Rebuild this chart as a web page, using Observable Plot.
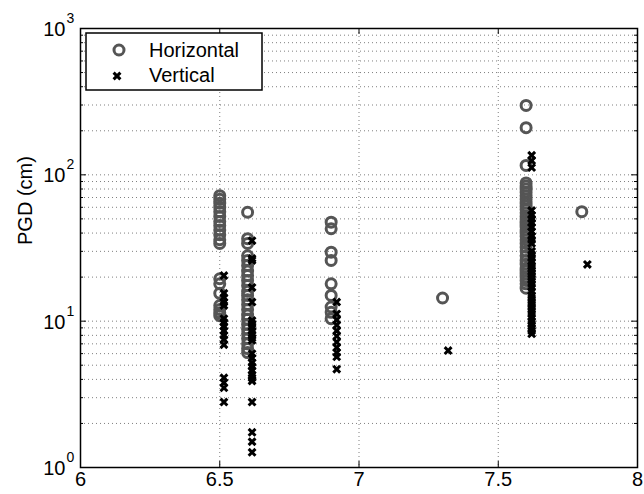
<!DOCTYPE html>
<html>
<head>
<meta charset="utf-8">
<script src="https://cdn.jsdelivr.net/npm/d3@7"></script>
<script src="https://cdn.jsdelivr.net/npm/@observablehq/plot@0.6"></script>
<style>
  html, body { margin: 0; padding: 0; background: #fff; }
  #chart { position: relative; width: 644px; height: 494px; }
</style>
</head>
<body>
<div id="chart"></div>
<script>
// Event magnitudes (x) for each series
const hMw = [6.5, 6.6, 6.9, 7.3, 7.6, 7.8];
const vMw = [6.515, 6.616, 6.92, 7.32, 7.62, 7.82];

// Horizontal PGD (cm) per event
const h65 = [72, 68, 64, 60, 56, 52, 48, 45, 42, 39, 36, 34, 19.5, 18, 15.5, 12.8, 12, 11.4, 10.9];
const h66 = [55.5, 36.6, 34, 28, 26, 24, 22, 20.5, 19, 17.5, 16, 15, 14, 13, 12, 11, 10.3, 9.5, 8.8, 8.2, 7.6, 7, 6.5, 6.1];
const h69 = [47.5, 42.8, 29.6, 26, 18, 15, 12.5, 11.5, 10.4];
const h73 = [14.4];
const h76 = [298, 210, 116, 88, 84, 80, 76, 72, 68, 64, 61, 58, 55, 52, 50, 48, 46, 44, 42, 40, 38, 36, 34, 32, 30, 28, 26, 24.5, 23, 22, 21, 20, 19, 18, 16.8];
const h78 = [56];

// Vertical PGD (cm) per event
const v65 = [20.5, 15.5, 14.5, 13.5, 12.8, 10.4, 9.8, 9.2, 8.6, 8, 7.5, 6.9, 4.1, 3.8, 3.5, 2.8];
const v66 = [35.5, 26.8, 26, 17, 13.5, 10.1, 9.6, 9.1, 8.6, 8.1, 7.7, 7.4, 6, 5.6, 5.2, 4.9, 4.6, 4.3, 4.1, 3.9, 2.8, 1.74, 1.5, 1.27];
const v69 = [13.5, 11.2, 10.2, 9.4, 8.6, 7.9, 7.2, 6.6, 6.1, 5.7, 4.7];
const v73 = [6.3];
const v76 = [136, 125, 112, 57, 53, 50, 47, 44, 41, 38, 36, 34, 30, 28.5, 27, 25.5, 24, 23, 22, 21, 20, 19, 18, 17, 16, 15, 14.3, 13.6, 13, 12.4, 11.8, 11.2, 10.6, 10, 9.5, 9, 8.6, 8.2];
const v78 = [24.4];

// Axis ticks
const xTicks = [6, 6.5, 7, 7.5, 8];
const xTickLabels = ["6", "6.5", "7", "7.5", "8"];
const yMajor = [1, 10, 100, 1000];
const yMinorMult = [2, 3, 4, 5, 6, 7, 8, 9];

const seriesNames = ["Horizontal", "Vertical"];
const yLabel = "PGD (cm)";

// ---- build tables ----
const hGroups = [h65, h66, h69, h73, h76, h78];
const vGroups = [v65, v66, v69, v73, v76, v78];
const horiz = hGroups.flatMap((g, i) => g.map(v => ({mw: hMw[i], pgd: v})));
const vert = vGroups.flatMap((g, i) => g.map(v => ({mw: vMw[i], pgd: v})));
const yMinor = yMajor.slice(0, -1).flatMap(d => yMinorMult.map(m => m * d));
const yGrid = [...yMajor.slice(1, -1), ...yMinor];

const W = 644, H = 494;
const mL = 80, mR = 7, mT = 28, mB = 27;
const fw = W - mL - mR, fh = H - mT - mB;
const FONT = "'Liberation Sans', Arial, Helvetica, sans-serif";
const gridStyle = {stroke: "#000", strokeOpacity: 0.5, strokeDasharray: "1,3", strokeWidth: 1};
const CROSS_R = 3.2, CROSS_W = 3;

const plot = Plot.plot({
  width: W, height: H,
  marginLeft: mL, marginRight: mR, marginTop: mT, marginBottom: mB,
  style: {fontFamily: FONT, background: "white", overflow: "visible"},
  x: {domain: [6, 8], axis: null},
  y: {type: "log", domain: [1, 1000], axis: null},
  marks: [
    Plot.gridY(yGrid, gridStyle),
    Plot.gridX(xTicks.slice(1, -1), gridStyle),
    Plot.dot(horiz, {x: "mw", y: "pgd", r: 5, stroke: "#555555", strokeWidth: 3, fill: "none"}),
    Plot.dot(vert, {x: "mw", y: "pgd", symbol: "times", r: CROSS_R, stroke: "#000", strokeWidth: CROSS_W}),
    Plot.frame({stroke: "#000", strokeWidth: 1.5}),
    // inward ticks
    Plot.tickX(xTicks, {insetTop: fh - 6, stroke: "#000"}),
    Plot.tickX(xTicks, {insetBottom: fh - 6, stroke: "#000"}),
    Plot.tickY(yMajor, {insetRight: fw - 6, stroke: "#000"}),
    Plot.tickY(yMajor, {insetLeft: fw - 6, stroke: "#000"}),
    Plot.tickY(yMinor, {insetRight: fw - 3, stroke: "#000"}),
    Plot.tickY(yMinor, {insetLeft: fw - 3, stroke: "#000"}),
    // tick labels
    Plot.text(xTicks, {x: d => d, frameAnchor: "bottom", dy: 18, text: (d, i) => xTickLabels[i], fontSize: 20, fill: "#000"}),
    Plot.text(yMajor, {y: d => d, frameAnchor: "left", dx: -15, dy: 1, text: () => "10", textAnchor: "end", fontSize: 20, fill: "#000"}),
    Plot.text(yMajor, {y: d => d, frameAnchor: "left", dx: -14, dy: -10, text: d => String(Math.round(Math.log10(d))), textAnchor: "start", fontSize: 14, fill: "#000"}),
    Plot.text([yLabel], {frameAnchor: "left", dx: -55, dy: -3, rotate: -90, fontSize: 20, fill: "#000"})
  ]
});

document.getElementById("chart").appendChild(plot);

// Legend (MATLAB style box in upper-left)
const svg = d3.select(plot);
const lg = svg.append("g").attr("font-family", FONT).attr("text-anchor", "start");
lg.append("rect").attr("x", 86).attr("y", 33).attr("width", 176).attr("height", 57)
  .attr("fill", "#fff").attr("stroke", "#000").attr("stroke-width", 1.5);
lg.append("circle").attr("cx", 119).attr("cy", 50).attr("r", 5)
  .attr("fill", "none").attr("stroke", "#555555").attr("stroke-width", 3);
lg.append("path").attr("transform", "translate(117,76)")
  .attr("d", d3.symbol(d3.symbolTimes, Math.PI * CROSS_R * CROSS_R)())
  .attr("fill", "none").attr("stroke", "#000").attr("stroke-width", CROSS_W);
lg.append("text").attr("x", 149).attr("y", 50).attr("dy", "0.35em").attr("font-size", 20)
  .attr("text-anchor", "start").attr("fill", "#000").text(seriesNames[0]);
lg.append("text").attr("x", 149).attr("y", 75).attr("dy", "0.35em").attr("font-size", 20)
  .attr("text-anchor", "start").attr("fill", "#000").text(seriesNames[1]);
</script>
</body>
</html>
